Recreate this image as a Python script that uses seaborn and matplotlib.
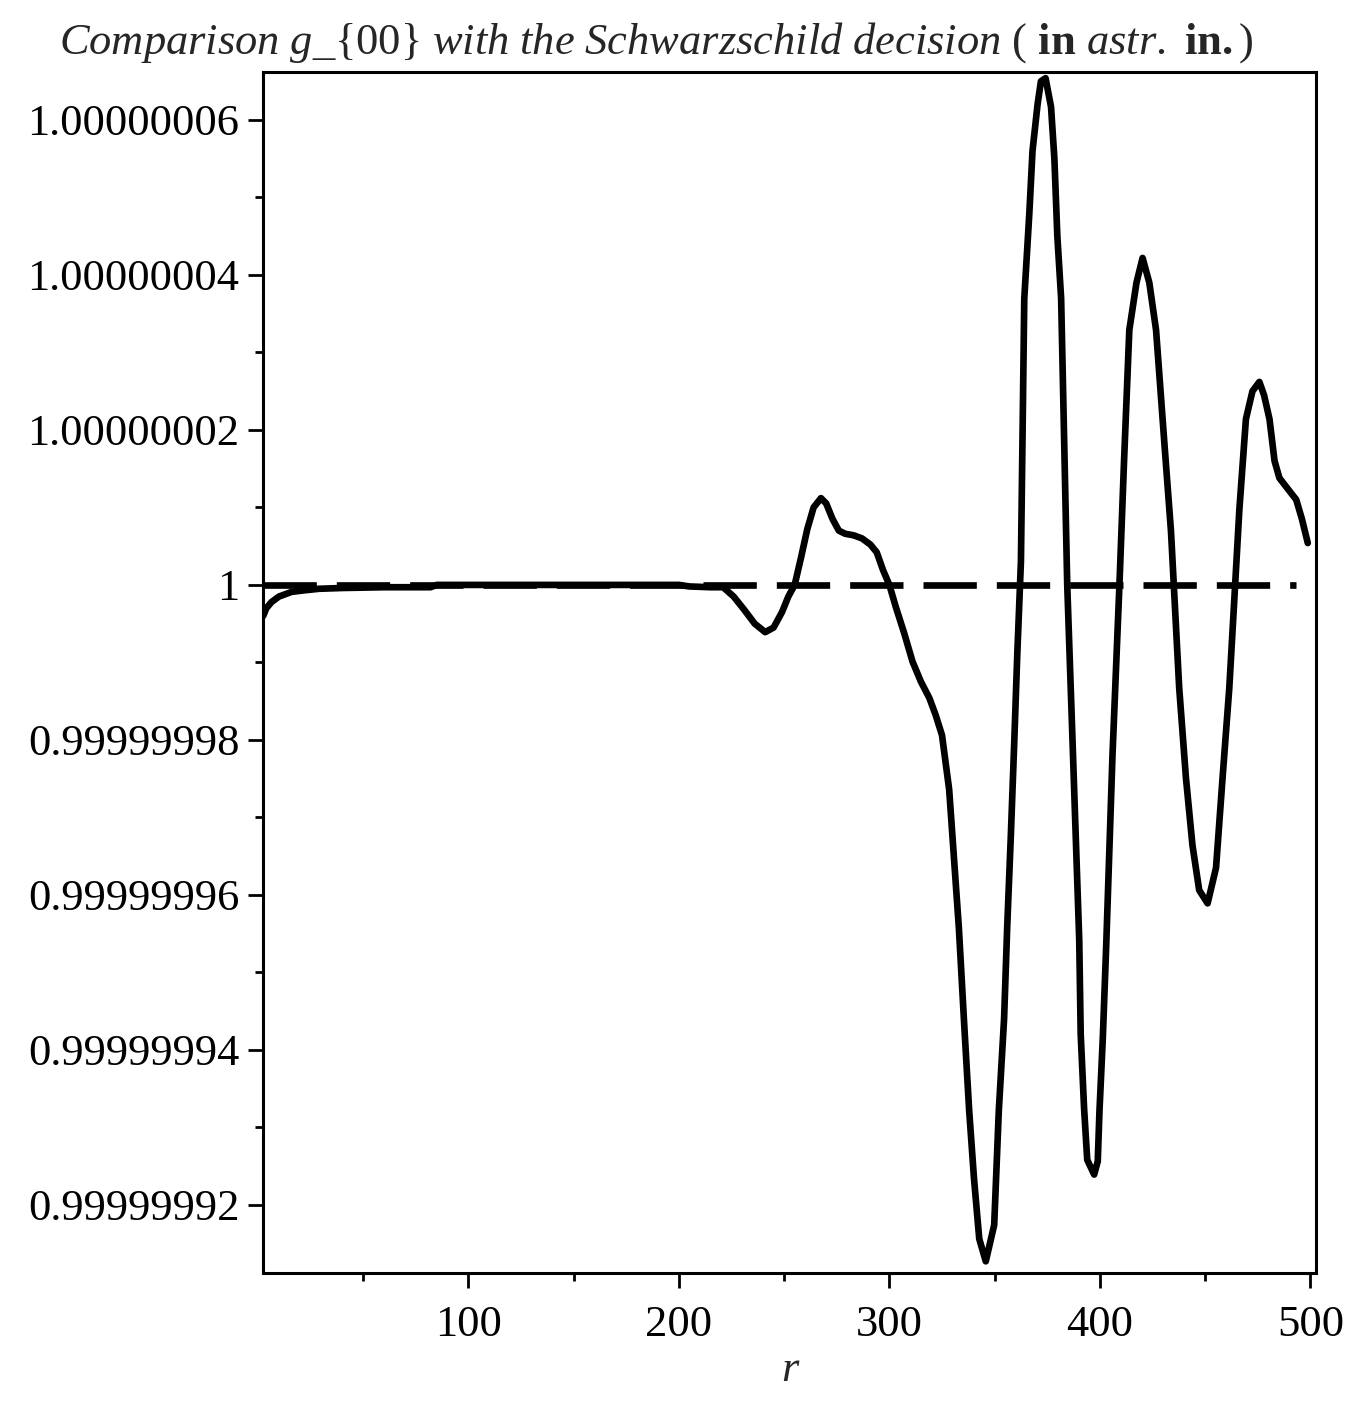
import matplotlib
matplotlib.use("Agg")
import matplotlib.pyplot as plt
import seaborn as sns
import pandas as pd
from matplotlib.ticker import FixedLocator, FuncFormatter

# g_00, as deviation from 1 in units of 1e-8
r_vals = [2.5, 4, 6.5, 10, 16, 22, 29, 40, 60, 82, 85, 120, 160, 200, 205, 215, 221,
          226, 231, 236, 241, 245, 249, 252, 255, 258, 261, 264, 267.5, 270, 273, 276,
          279, 283, 287, 291, 294, 297, 300, 303, 307, 311, 315, 319, 322, 325, 328.4,
          330.7, 333, 335.4, 337.9, 340.2, 342.7, 345.8, 349.8, 352, 354.5, 356, 357.7,
          359.3, 360.8, 362.5, 364.1, 366.5, 368, 370.4, 372, 374.2, 376.8, 378.4, 379.8,
          381.6, 384.5, 387, 390.2, 390.9, 392.5, 394, 397.3, 399, 399.8, 401.4, 403,
          406, 409.3, 411.5, 414, 417.4, 420.3, 423.5, 426.7, 430.6, 433.8, 437.7, 440.9,
          444, 447.2, 451.2, 455.2, 458.3, 461.5, 463.9, 466.3, 469.4, 472.5, 475.8, 478,
          480.6, 483, 485.3, 489, 493.3, 496, 498.8]
g00_dev = [-0.40, -0.30, -0.22, -0.15, -0.09, -0.07, -0.05, -0.04, -0.03, -0.03, 0.0, 0.0,
           0.0, 0.0, -0.02, -0.03, -0.03, -0.15, -0.32, -0.50, -0.61, -0.55, -0.35, -0.15,
           0.0, 0.35, 0.72, 1.0, 1.12, 1.05, 0.85, 0.70, 0.66, 0.64, 0.60, 0.52, 0.42, 0.19,
           0.0, -0.28, -0.62, -0.99, -1.25, -1.46, -1.68, -1.94, -2.64, -3.53, -4.42, -5.6,
           -6.78, -7.66, -8.44, -8.73, -8.26, -6.78, -5.6, -4.4, -3.24, -2.05, -0.87, 0.3,
           3.7, 4.8, 5.6, 6.2, 6.5, 6.54, 6.17, 5.5, 4.5, 3.7, 0.0, -2.0, -4.58, -5.8,
           -6.75, -7.42, -7.61, -7.44, -6.8, -5.85, -4.67, -2.2, 0.0, 1.6, 3.29, 3.9, 4.22,
           3.9, 3.29, 1.85, 0.69, -1.33, -2.49, -3.36, -3.94, -4.11, -3.65, -2.49, -1.33,
           -0.18, 0.98, 2.14, 2.5, 2.62, 2.45, 2.14, 1.6, 1.38, 1.25, 1.1, 0.85, 0.54]

# Schwarzschild reference (g_00 = 1)
schw_r = [2.5, 493.3]
schw_dev = [0.0, 0.0]

y_major = [-8, -6, -4, -2, 0, 2, 4, 6]
y_minor = [-7, -5, -3, -1, 1, 3, 5]
x_major = [100, 200, 300, 400, 500]
x_minor = [50, 150, 250, 350, 450]

sns.set_theme(style="white")
plt.rcParams["font.family"] = ["Liberation Serif", "DejaVu Serif"]
plt.rcParams["mathtext.fontset"] = "custom"
plt.rcParams["mathtext.rm"] = "Liberation Serif"
plt.rcParams["mathtext.it"] = "Liberation Serif:italic"
plt.rcParams["mathtext.bf"] = "Liberation Serif:bold"

fig = plt.figure(figsize=(13.67, 14.08), dpi=100)
ax = fig.add_axes([0.1924, 0.0959, 0.9627 - 0.1924, 0.9489 - 0.0959])

df = pd.DataFrame({"r": r_vals, "g": g00_dev})
ref = pd.DataFrame({"r": schw_r, "g": schw_dev})
sns.lineplot(data=ref, x="r", y="g", ax=ax, color="black")
sns.lineplot(data=df, x="r", y="g", ax=ax, color="black", sort=False)

# thick Maple-like strokes; first line is the dashed reference
ax.lines[0].set_linewidth(4.8)
ax.lines[0].set_linestyle((0, (8.0, 3.0)))
ax.lines[1].set_linewidth(4.8)

ax.set_xlim(2.4, 502.7)
ax.set_ylim(-8.88, 6.62)

ax.xaxis.set_major_locator(FixedLocator(x_major))
ax.xaxis.set_minor_locator(FixedLocator(x_minor))
ax.yaxis.set_major_locator(FixedLocator(y_major))
ax.yaxis.set_minor_locator(FixedLocator(y_minor))


def g_label(v, pos):
    s = f"{1 + v * 1e-8:.8f}".rstrip("0").rstrip(".")
    return s


ax.yaxis.set_major_formatter(FuncFormatter(g_label))
ax.tick_params(axis="both", which="major", direction="out", length=11, width=2,
               color="black", labelsize=32, labelcolor="black")
ax.tick_params(axis="both", which="minor", direction="out", length=6, width=2,
               color="black")
ax.tick_params(axis="y", which="major", pad=6)
ax.tick_params(axis="x", which="major", pad=12)
ax.tick_params(bottom=True, left=True, which="both")

for side in ax.spines.values():
    side.set_color("black")
    side.set_linewidth(2.2)

ax.set_xlabel("r", fontsize=32, style="italic", labelpad=4)
ax.set_ylabel("")

fig.text(0.48, 0.970,
         r"$\mathit{Comparison\ g\_\{00\}\ with\ the\ Schwarzschild\ decision}$ ( "
         r"$\mathbf{in}$ $\mathit{astr.}$ $\mathbf{in.}$)",
         ha="center", va="center", fontsize=32)

fig.savefig("out.png", dpi=100, facecolor="white")
